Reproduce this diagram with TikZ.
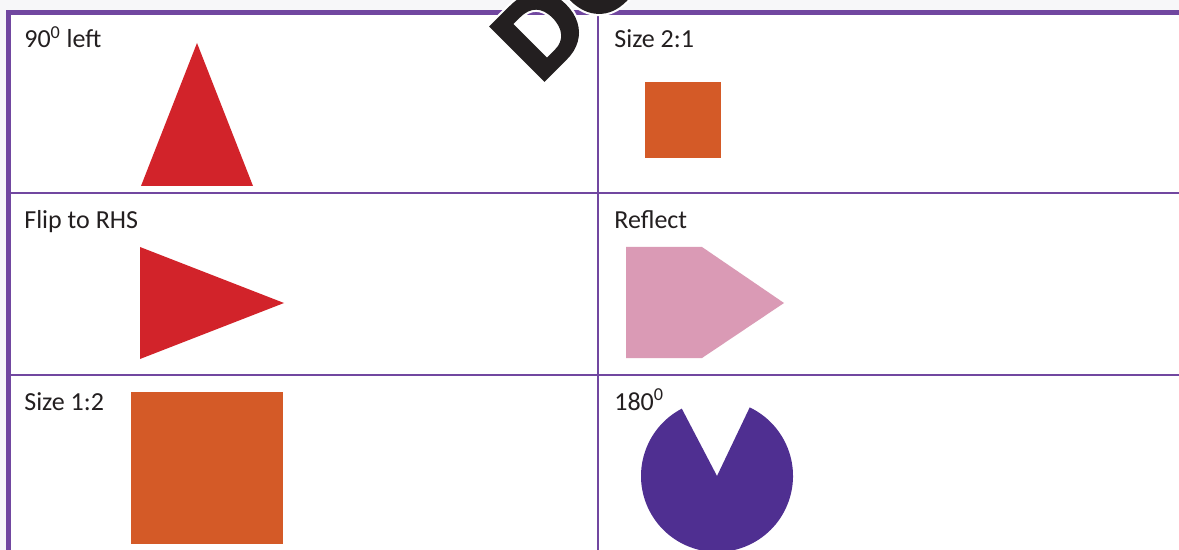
\documentclass[tikz,border=0pt]{standalone}
\usepackage{fontspec}
\setmainfont{Carlito}
\newfontfamily\markfont{Liberation Sans Bold}[FakeBold=3]
\newfontfamily\markhalo{Liberation Sans Bold}[FakeBold=7]
\usetikzlibrary{calc}

\definecolor{pagegray}{HTML}{F7F7F9}
\definecolor{rulepurple}{HTML}{7147A0}
\definecolor{inkgray}{HTML}{231F20}
\definecolor{shapered}{HTML}{D2232A}
\definecolor{shapeorange}{HTML}{D45A27}
\definecolor{shapepink}{HTML}{DA9AB5}
\definecolor{shapeviolet}{HTML}{4F2F91}

\begin{document}
\begin{tikzpicture}[
    x=0.02cm, y=-0.02cm,
    font=\fontsize{14.8}{17}\selectfont,
    celltext/.style={anchor=base west, inner sep=0pt, text=inkgray},
    thickrule/.style={draw=rulepurple, line width=0.1cm},
    thinrule/.style={draw=rulepurple, line width=0.6pt},
    marktext/.style={anchor=base west, inner sep=0pt, rotate=45}
]

\def\midx{598}
\def\rowa{193}
\def\rowb{375}

% page and clipping
\useasboundingbox (0,0) rectangle (1179,550);
\fill[pagegray] (0,0) rectangle (1179,550);
\clip (0,0) rectangle (1179,550);
\fill[white] (8,12) rectangle (1179,550);

% table rules
\draw[thinrule] (8,\rowa) -- (1179,\rowa);
\draw[thinrule] (8,\rowb) -- (1179,\rowb);
\draw[thinrule] (\midx,12) -- (\midx,550);
\draw[thickrule] (8.5,550) -- (8.5,12.5) -- (1179,12.5);

% cell captions
\node[celltext] (capa) at (24,48) {90\textsuperscript{0} left};
\node[celltext] (capb) at (614,48) {Size 2:1};
\node[celltext] (capc) at (24,229) {Flip to RHS};
\node[celltext] (capd) at (614,229) {Reflect};
\node[celltext] (cape) at (24,410) {Size 1:2};
\node[celltext] (capf) at (614,410) {180\textsuperscript{0}};

% shapes
\fill[shapered] (197,43) -- (253,186) -- (141,186) -- cycle;
\fill[shapeorange] (645,82) rectangle (721,158);
\fill[shapered] (140,247) -- (284,303) -- (140,359) -- cycle;
\fill[shapepink] (626,247) -- (702,247) -- (784,303) -- (702,358) -- (626,358) -- cycle;
\fill[shapeorange] (131,392) rectangle (283,544);
\coordinate (pac) at (717,476);
\fill[shapeviolet] (pac) -- ++(-117.6:76) arc[start angle=-117.6, end angle=-424.5, radius=76] -- cycle;

% stamp over the top rule
\node[marktext, text=white, font=\markhalo\fontsize{62}{62}\selectfont] (stamphalo) at (539,85) {DO};
\node[marktext, text=inkgray, font=\markfont\fontsize{62}{62}\selectfont] (stamp) at (539,85) {DO};

\end{tikzpicture}
\end{document}
